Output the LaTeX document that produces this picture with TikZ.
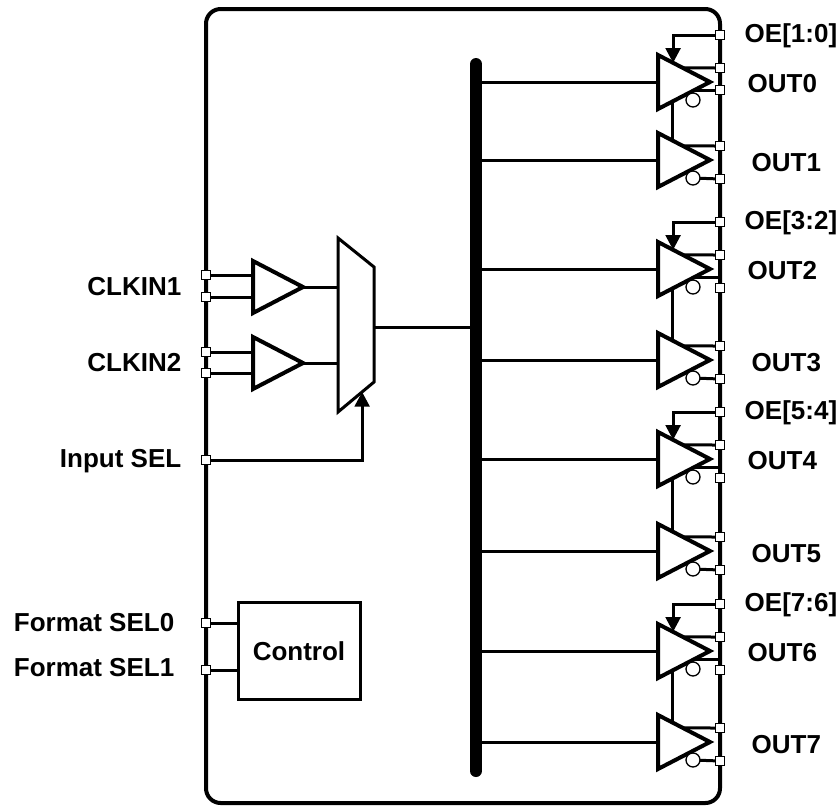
\documentclass[tikz,border=0pt]{standalone}
\usepackage{fontspec}
\setmainfont{Liberation Sans}
\usepackage{tikz}
\usetikzlibrary{calc}
\usetikzlibrary{arrows.meta}

\begin{document}
\begin{tikzpicture}[
        x=0.75pt, y=-0.75pt,
        >={Triangle[length=11pt,width=11pt]},
        wire/.style={line width=2.25pt},
        gate/.style={line width=3pt, fill=white},
        port/.style={draw, fill=white, line width=0.75pt, minimum size=6.5pt, inner sep=0pt},
        bubble/.style={draw, fill=white, line width=1pt},
        lbl/.style={font=\fontsize{19.5}{23}\selectfont\bfseries},
        ]
        \useasboundingbox (0,0) rectangle (840,808);
        \draw [line width=3pt, rounded corners=11pt] (206,9) rectangle (720,803);
        \coordinate (bus-top) at (476,64);
        \coordinate (bus-bot) at (476,771);
        \draw [line width=9pt, line cap=round] (bus-top) -- (bus-bot);

        % output buffers, two per OE pin
        \foreach \ce/\co/\oe/\pe [count=\g from 0] in {82/160/1:0/8, 269/360/3:2/19, 459/551/5:4/19, 651/742/7:6/19} {
            \pgfmathtruncatemacro{\e}{2*\g}
            \pgfmathtruncatemacro{\o}{2*\g+1}
            \coordinate (buf\e-in) at (658,\ce);
            \coordinate (buf\e-nw) at (658,\ce-27);
            \coordinate (buf\e-sw) at (658,\ce+27);
            \coordinate (buf\e-tip) at (710,\ce);
            \coordinate (buf\o-in) at (658,\co);
            \coordinate (buf\o-nw) at (658,\co-27);
            \coordinate (buf\o-sw) at (658,\co+27);
            \coordinate (buf\o-tip) at (710,\co);
            \coordinate (inv\e) at (693,\ce+18);
            \coordinate (inv\o) at (693,\co+18);
            \coordinate (oe\g) at (720,\ce-47);
            \coordinate (p\e-t) at (720,\ce-14);
            \coordinate (p\e-b) at (720,\ce+\pe);
            \coordinate (p\o-t) at (720,\co-14);
            \coordinate (p\o-b) at (720,\co+19);
            \draw [wire] (bus-top |- buf\e-in) -- (buf\e-in);
            \draw [wire] (bus-top |- buf\o-in) -- (buf\o-in);
            \draw [wire,->] (oe\g) -| ($(buf\e-nw)!0.29!(buf\e-tip)$);
            \draw [wire] ($(buf\e-nw)!0.48!(buf\e-tip)$) -- (p\e-t);
            \draw [wire] ($(buf\e-sw)!0.7!(buf\e-tip)$) -- ++(26,0);
            \draw [wire] ($(buf\o-nw)!0.48!(buf\o-tip)$) -- (p\o-t);
            \draw [wire] (inv\o) -- (p\o-b);
            \draw [wire] ($(buf\e-sw)!0.27!(buf\e-tip)$) -- ($(buf\o-nw)!0.27!(buf\o-tip)$);
            \draw [gate] (buf\e-nw) -- (buf\e-tip) -- (buf\e-sw) -- cycle;
            \draw [gate] (buf\o-nw) -- (buf\o-tip) -- (buf\o-sw) -- cycle;
            \draw [bubble] (inv\e) circle (5.25pt);
            \draw [bubble] (inv\o) circle (5.25pt);
            \foreach \p in {oe\g, p\e-t, p\e-b, p\o-t, p\o-b}
                \node [port] at (\p) {};
            \node [lbl, anchor=west] at (740,\ce-46) {OE[\oe]};
            \node [lbl, anchor=west] at (743,\ce+2) {OUT\e};
            \node [lbl, anchor=west] at (747,\co+3) {OUT\o};
        }

        % clock inputs and mux
        \coordinate (clk1a) at (206,275);
        \coordinate (clk1b) at (206,297);
        \coordinate (clk2a) at (206,352);
        \coordinate (clk2b) at (206,373);
        \coordinate (sel) at (206,460);
        \coordinate (fmt0) at (206,623);
        \coordinate (fmt1) at (206,670);
        \coordinate (ib1-nw) at (253,261);
        \coordinate (ib1-sw) at (253,313);
        \coordinate (ib1-tip) at (303,287);
        \coordinate (ib2-nw) at (253,337);
        \coordinate (ib2-sw) at (253,389);
        \coordinate (ib2-tip) at (303,363);
        \coordinate (mux-nw) at (338,238);
        \coordinate (mux-ne) at (374,267);
        \coordinate (mux-se) at (374,382);
        \coordinate (mux-sw) at (338,412);
        \coordinate (mux-out) at (374,327);
        \draw [wire] (clk1a) -- (ib1-nw |- clk1a);
        \draw [wire] (clk1b) -- (ib1-nw |- clk1b);
        \draw [wire] (clk2a) -- (ib2-nw |- clk2a);
        \draw [wire] (clk2b) -- (ib2-nw |- clk2b);
        \draw [wire] (ib1-tip) -- (mux-nw |- ib1-tip);
        \draw [wire] (ib2-tip) -- (mux-nw |- ib2-tip);
        \draw [wire] (mux-out) -- (bus-top |- mux-out);
        \draw [wire,->] (sel) -| ($(mux-sw)!0.67!(mux-se)$);
        \draw [gate] (ib1-nw) -- (ib1-tip) -- (ib1-sw) -- cycle;
        \draw [gate] (ib2-nw) -- (ib2-tip) -- (ib2-sw) -- cycle;
        \draw [gate, line width=2.25pt] (mux-nw) -- (mux-ne) -- (mux-se) -- (mux-sw) -- cycle;

        \node [draw, line width=2.25pt, minimum width=91.5pt, minimum height=72.75pt, lbl]
            (ctrl) at (299,651) {Control};
        \draw [wire] (fmt0) -- (ctrl.west |- fmt0);
        \draw [wire] (fmt1) -- (ctrl.west |- fmt1);

        \foreach \p in {clk1a, clk1b, clk2a, clk2b, sel, fmt0, fmt1}
            \node [port] at (\p) {};
        \node [lbl, anchor=east] at (186,287) {CLKIN1};
        \node [lbl, anchor=east] at (186,363) {CLKIN2};
        \node [lbl, anchor=east] at (186,461) {Input SEL};
        \node [lbl, anchor=east] at (179,623) {Format SEL0};
        \node [lbl, anchor=east] at (179,668) {Format SEL1};
\end{tikzpicture}
\end{document}
